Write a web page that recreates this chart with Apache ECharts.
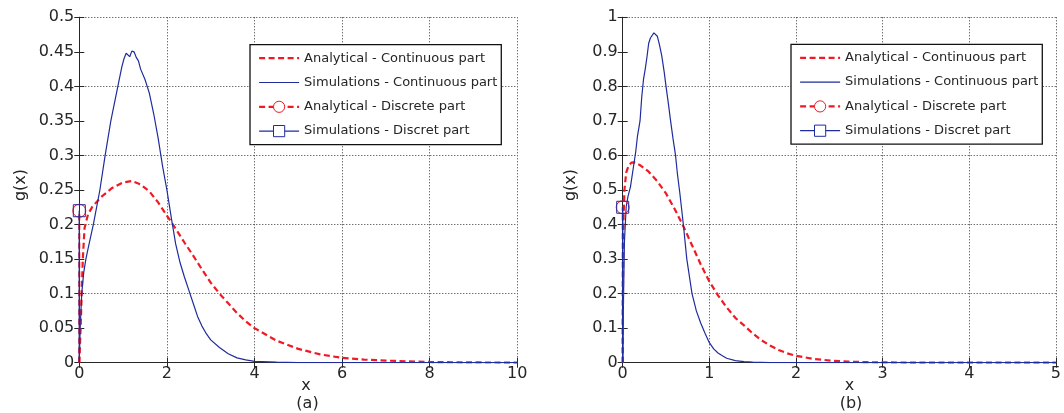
<!DOCTYPE html>
<html>
<head>
<meta charset="utf-8">
<script src="https://cdn.jsdelivr.net/npm/echarts@6/dist/echarts.min.js"></script>
<style>
html,body{margin:0;padding:0;background:#fff;}
#chart{width:1064px;height:413px;}
</style>
</head>
<body>
<div id="chart"></div>
<script>
// ---- Data ----
const seriesNames = [
  'Analytical - Continuous part',
  'Simulations - Continuous part',
  'Analytical - Discrete part',
  'Simulations - Discret part'
];
const panelTitles = ['(a)', '(b)'];
const xAxisName = 'x';
const yAxisName = 'g(x)';

// Panel (a)
const leftXMax = 10, leftXStep = 2, leftYMax = 0.5, leftYStep = 0.05, leftGridStep = 0.1;
const leftAnalyticalCont = [
  [0,0],[0.03,0.05],[0.055,0.1],[0.08,0.15],[0.12,0.195],[0.2,0.215],[0.3,0.226],[0.5,0.24],
  [0.75,0.253],[1.0,0.261],[1.2,0.263],[1.4,0.258],[1.6,0.248],[1.8,0.232],[2.0,0.213],
  [2.2,0.194],[2.4,0.174],[2.6,0.155],[2.8,0.135],[3.0,0.116],[3.2,0.1],[3.4,0.086],
  [3.6,0.072],[3.8,0.06],[4.0,0.05],[4.5,0.032],[5.0,0.02],[5.5,0.012],[6.0,0.007],
  [6.5,0.0045],[7.0,0.003],[8.0,0.001],[9.0,0.0004],[10,0.0001]
];
const leftSimCont = [
  [0,0],[0.02,0.05],[0.055,0.1],[0.1,0.13],[0.15,0.15],[0.2,0.165],[0.32,0.2],[0.47,0.25],
  [0.59,0.3],[0.72,0.35],[0.88,0.4],[0.97,0.428],[1.02,0.44],[1.07,0.448],[1.1,0.449],
  [1.15,0.443],[1.2,0.451],[1.25,0.45],[1.3,0.442],[1.35,0.437],[1.4,0.425],[1.5,0.41],
  [1.55,0.4],[1.6,0.39],[1.7,0.36],[1.8,0.325],[1.9,0.285],[2.0,0.25],[2.1,0.21],
  [2.2,0.172],[2.3,0.145],[2.4,0.124],[2.5,0.105],[2.6,0.086],[2.7,0.067],[2.8,0.053],
  [2.9,0.042],[3.0,0.033],[3.2,0.022],[3.4,0.013],[3.6,0.007],[3.8,0.004],[4.0,0.002],
  [4.5,0.0008],[5.0,0.0002],[6,0],[10,0]
];
const leftDiscrete = 0.22;

// Panel (b)
const rightXMax = 5, rightXStep = 1, rightYMax = 1, rightYStep = 0.1, rightGridStep = 0.2;
const rightAnalyticalCont = [
  [0,0],[0.005,0.3],[0.01,0.42],[0.02,0.5],[0.04,0.55],[0.07,0.572],[0.1,0.579],[0.13,0.58],
  [0.2,0.572],[0.3,0.553],[0.4,0.525],[0.5,0.49],[0.6,0.445],[0.7,0.395],[0.8,0.34],
  [0.9,0.285],[1.0,0.235],[1.1,0.195],[1.2,0.16],[1.3,0.13],[1.4,0.108],[1.5,0.085],
  [1.6,0.065],[1.7,0.05],[1.8,0.037],[1.9,0.027],[2.0,0.02],[2.2,0.011],[2.4,0.006],
  [2.6,0.003],[2.8,0.0016],[3.0,0.0008],[3.5,0.0002],[4,0],[5,0]
];
const rightSimCont = [
  [0,0],[0.01,0.2],[0.02,0.35],[0.04,0.45],[0.06,0.48],[0.09,0.51],[0.12,0.56],[0.15,0.61],
  [0.17,0.655],[0.19,0.685],[0.2,0.7],[0.22,0.77],[0.24,0.82],[0.26,0.85],[0.28,0.885],
  [0.3,0.925],[0.32,0.94],[0.34,0.942],[0.36,0.955],[0.38,0.952],[0.4,0.945],[0.42,0.925],
  [0.45,0.89],[0.48,0.84],[0.5,0.8],[0.53,0.745],[0.55,0.705],[0.58,0.65],[0.61,0.6],
  [0.63,0.55],[0.66,0.49],[0.7,0.4],[0.74,0.3],[0.8,0.2],[0.85,0.15],[0.9,0.115],
  [0.95,0.085],[1.0,0.058],[1.05,0.04],[1.1,0.028],[1.15,0.02],[1.2,0.013],[1.3,0.006],
  [1.4,0.003],[1.5,0.0015],[1.7,0.0005],[2,0],[5,0]
];
const rightDiscrete = 0.45;

// ---- Styles ----
const RED = '#f01a24';
const BLUE = '#1f2c9e';
const AXIS = '#262626';
const FONT = 'DejaVu Sans';
const DASH = [6, 3.5];
const CLEAR = 'rgba(255,255,255,0)';

const grids = [
  {left: 79.3, top: 17.3, width: 438, height: 345.4},
  {left: 622.7, top: 17.3, width: 438, height: 345.4}
];

function xAxesFor(gi, max, step) {
  const base = {
    type: 'value', gridIndex: gi, min: 0, max: max, interval: step,
    axisLine: {show: true, lineStyle: {color: AXIS, width: 1}},
    axisTick: {show: true, inside: true, length: 5, lineStyle: {color: AXIS}},
  };
  return [
    Object.assign({}, base, {
      position: 'bottom',
      axisLabel: {show: true, color: AXIS, fontFamily: FONT, fontSize: 16, margin: 3},
      splitLine: {show: true, lineStyle: {color: '#333', type: [1, 2], width: 1}}
    }),
    Object.assign({}, base, {
      position: 'top',
      axisLabel: {show: false},
      splitLine: {show: false}
    })
  ];
}
function yAxesFor(gi, max, step, gridStep) {
  const base = {
    type: 'value', gridIndex: gi, min: 0, max: max, interval: step,
    axisLine: {show: true, lineStyle: {color: AXIS, width: 1}},
    axisTick: {show: true, inside: true, length: 5, lineStyle: {color: AXIS}},
    splitLine: {show: false}
  };
  return [
    Object.assign({}, base, {
      position: 'left',
      axisLabel: {show: true, color: AXIS, fontFamily: FONT, fontSize: 16, margin: 5}
    }),
    Object.assign({}, base, {
      position: 'right',
      axisLabel: {show: false}
    }),
    {
      type: 'value', gridIndex: gi, min: 0, max: max, interval: gridStep, position: 'left',
      axisLine: {show: false}, axisTick: {show: false}, axisLabel: {show: false},
      splitLine: {show: true, lineStyle: {color: '#333', type: [1, 2], width: 1}}
    }
  ];
}

function panelSeries(xi, yi, anaCont, simCont, disc) {
  return [
    {
      name: seriesNames[0], type: 'line', xAxisIndex: xi, yAxisIndex: yi,
      data: anaCont, symbol: 'none', showSymbol: false,
      lineStyle: {color: RED, width: 2.2, type: DASH}, itemStyle: {color: RED},
      animation: false, z: 3
    },
    {
      name: seriesNames[1], type: 'line', xAxisIndex: xi, yAxisIndex: yi,
      data: simCont, symbol: 'none', showSymbol: false,
      lineStyle: {color: BLUE, width: 1.2}, itemStyle: {color: BLUE},
      animation: false, z: 4
    },
    {
      name: seriesNames[2], type: 'line', xAxisIndex: xi, yAxisIndex: yi,
      data: [{value: [0, 0], symbol: 'none'}, [0, disc]],
      symbol: 'circle', symbolSize: 13, showSymbol: true, clip: false,
      lineStyle: {color: RED, width: 2, type: DASH},
      itemStyle: {color: CLEAR, borderColor: RED, borderWidth: 1},
      animation: false, z: 5
    },
    {
      name: seriesNames[3], type: 'line', xAxisIndex: xi, yAxisIndex: yi,
      data: [{value: [0, 0], symbol: 'none'}, [0, disc]],
      symbol: 'rect', symbolSize: 12, showSymbol: true, clip: false,
      lineStyle: {color: BLUE, width: 1.4},
      itemStyle: {color: CLEAR, borderColor: BLUE, borderWidth: 1},
      animation: false, z: 6
    }
  ];
}

function legendFor(left, top) {
  return {
    show: true, orient: 'vertical', left: left, top: top,
    padding: [7, 4, 7, 8], itemGap: 11.3, itemWidth: 40, itemHeight: 14,
    backgroundColor: '#fff', borderColor: '#111', borderWidth: 1.3, borderRadius: 0,
    textStyle: {fontFamily: FONT, fontSize: 13, color: AXIS},
    selectedMode: false,
    data: [
      {name: seriesNames[0], itemStyle: {opacity: 0}, lineStyle: {width: 2.2, color: RED}},
      {name: seriesNames[1], itemStyle: {opacity: 0}, lineStyle: {width: 1.2, color: BLUE}},
      {name: seriesNames[2], itemStyle: {color: '#fff', borderColor: RED, borderWidth: 1}, lineStyle: {width: 2.2, color: RED}},
      {name: seriesNames[3], itemStyle: {color: '#fff', borderColor: BLUE, borderWidth: 1}, lineStyle: {width: 1.2, color: BLUE}}
    ]
  };
}

function txt(x, y, s, rot) {
  return {
    type: 'text', x: x, y: y, rotation: rot || 0, silent: true,
    style: {text: s, fill: AXIS, font: '16px "' + FONT + '"', textAlign: 'center', textVerticalAlign: 'middle'}
  };
}

const option = {
  backgroundColor: '#fff',
  animation: false,
  grid: grids.map(g => Object.assign({containLabel: false}, g)),
  xAxis: [].concat(xAxesFor(0, leftXMax, leftXStep), xAxesFor(1, rightXMax, rightXStep)),
  yAxis: [].concat(yAxesFor(0, leftYMax, leftYStep, leftGridStep), yAxesFor(1, rightYMax, rightYStep, rightGridStep)),
  legend: [legendFor(250, 44.7), legendFor(791, 44.3)],
  series: [].concat(
    panelSeries(0, 0, leftAnalyticalCont, leftSimCont, leftDiscrete),
    panelSeries(2, 3, rightAnalyticalCont, rightSimCont, rightDiscrete)
  ),
  graphic: [
    txt(20.5, 185, yAxisName, Math.PI / 2),
    txt(571.2, 185, yAxisName, Math.PI / 2),
    txt(306, 386, xAxisName),
    txt(307.5, 404, panelTitles[0]),
    txt(849.5, 386, xAxisName),
    txt(851, 404, panelTitles[1])
  ]
};

const chart = echarts.init(document.getElementById('chart'), null, {renderer: 'canvas'});
chart.setOption(option);
</script>
</body>
</html>
